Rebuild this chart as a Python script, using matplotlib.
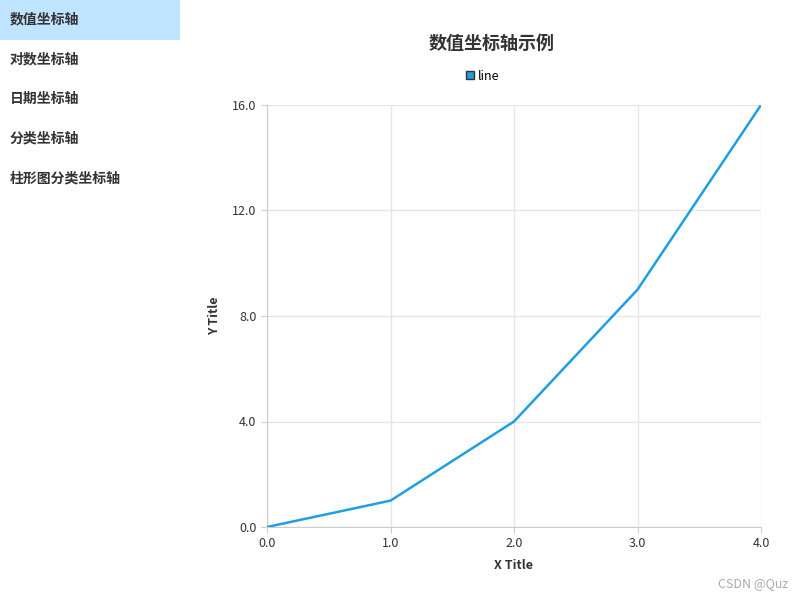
import matplotlib
matplotlib.use("Agg")
import matplotlib.pyplot as plt
from matplotlib.patches import Rectangle
from matplotlib.lines import Line2D

plt.rcParams['font.family'] = ['Noto Sans CJK SC', 'DejaVu Sans']

menu_items = ["数值坐标轴", "对数坐标轴", "日期坐标轴", "分类坐标轴", "柱形图分类坐标轴"]
x_vals = [0, 1, 2, 3, 4]
y_vals = [0, 1, 4, 9, 16]
x_ticks = [0, 1, 2, 3, 4]
y_ticks = [0, 4, 8, 12, 16]

W, H = 800, 600
fig = plt.figure(figsize=(8, 6), dpi=100)

# sidebar
fig.patches.append(Rectangle((0, 1 - 40 / H), 180 / W, 40 / H, transform=fig.transFigure,
                             facecolor='#bfe4ff', edgecolor='none'))
for i, t in enumerate(menu_items):
    fig.text(10 / W, 1 - (19 + 40 * i) / H, t, fontsize=10, fontweight='bold',
             color='#333333', va='center', ha='left')

ax = fig.add_axes([267 / W, 1 - 527 / H, (761 - 267) / W, (527 - 105) / H])
ax.plot(x_vals, y_vals, color='#1f9fe0', linewidth=1.8, zorder=3)
ax.set_xlim(0, 4)
ax.set_ylim(0, 16)
ax.set_xticks(x_ticks)
ax.set_xticklabels([f"{v:.1f}" for v in x_ticks])
ax.set_yticks(y_ticks)
ax.set_yticklabels([f"{v:.1f}" for v in y_ticks])
ax.grid(True, color='#e6e6e6', linewidth=1)
for s in ['top', 'right']:
    ax.spines[s].set_visible(False)
for s in ['left', 'bottom']:
    ax.spines[s].set_color('#cccccc')
ax.tick_params(colors='#333333', labelsize=9, length=4, color='#cccccc')
ax.set_xlabel("X Title", fontsize=9, fontweight='bold', color='#333333', labelpad=6)
ax.set_ylabel("Y Title", fontsize=9, fontweight='bold', color='#333333', labelpad=8)

fig.text(492 / W, 1 - 43 / H, "数值坐标轴示例", fontsize=13, fontweight='bold',
         color='#333333', ha='center', va='center')
fig.legend(handles=[Line2D([], [], marker='s', linestyle='none', markersize=6,
                           markerfacecolor='#1f9fe0', markeredgecolor='#333333', label='line')],
           loc='center', bbox_to_anchor=(482 / W, 1 - 76 / H), frameon=False,
           fontsize=9, handletextpad=0.2, handlelength=0.8)
fig.text(788 / W, 1 - 584 / H, "CSDN @Quz", fontsize=9, color='#aaaaaa', ha='right', va='center')

fig.savefig("out.png", dpi=100)
